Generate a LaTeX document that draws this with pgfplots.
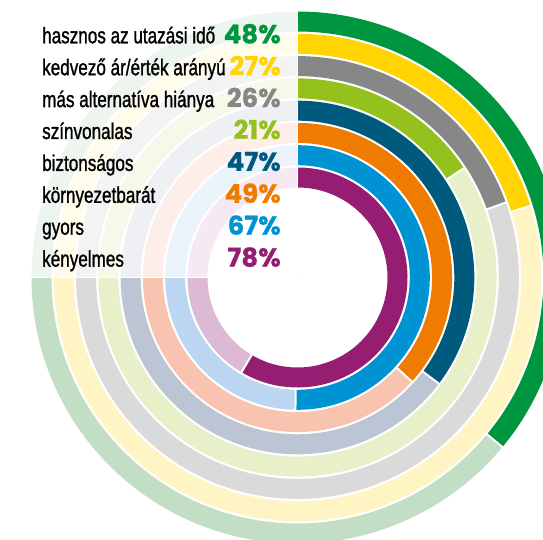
\documentclass[border=0pt]{standalone}
\usepackage{pgfplots}
\pgfplotsset{compat=1.18}
\usepackage{pgfplotstable}
\usepackage{fontspec}
\newfontfamily\labfont[FakeBold=1.4]{Liberation Sans}
\newfontfamily\pctfont[FakeBold=0.8]{Poppins}

% ring colours: full, light track, pale quadrant
\definecolor{c1}{HTML}{009640}\definecolor{c1L}{HTML}{C2DFC6}\definecolor{c1P}{HTML}{ECF5EE}
\definecolor{c2}{HTML}{FFD400}\definecolor{c2L}{HTML}{FFF4C4}\definecolor{c2P}{HTML}{FFFCEC}
\definecolor{c3}{HTML}{878787}\definecolor{c3L}{HTML}{DADADA}\definecolor{c3P}{HTML}{F3F3F3}
\definecolor{c4}{HTML}{95C11F}\definecolor{c4L}{HTML}{E8F0CA}\definecolor{c4P}{HTML}{F6F9EA}
\definecolor{c5}{HTML}{005A7E}\definecolor{c5L}{HTML}{BCC5D3}\definecolor{c5P}{HTML}{EEF0F4}
\definecolor{c6}{HTML}{EF7C00}\definecolor{c6L}{HTML}{F9C4AF}\definecolor{c6P}{HTML}{FEEEE9}
\definecolor{c7}{HTML}{0093D3}\definecolor{c7L}{HTML}{BBD6F0}\definecolor{c7P}{HTML}{EBF3FB}
\definecolor{c8}{HTML}{951E72}\definecolor{c8L}{HTML}{DCBAD3}\definecolor{c8P}{HTML}{F5EAF3}

% centre x y, ring radius r, value v (percent), colour index k
\pgfplotstableread{
x     y     r     v  k
297.5 262.5 256.0 48 1
297.5 262.5 233.7 27 2
297.5 262.5 211.4 26 3
297.5 262.5 189.1 21 4
297.5 262.5 166.8 47 5
297.5 262.5 144.6 49 6
297.5 262.5 122.3 67 7
297.5 262.5 100.0 78 8
}\rings

\newcommand\lab[1]{\scalebox{0.76}[1]{#1}}
\tikzset{
  lbl/.style={anchor=base west, inner sep=0pt, font=\labfont\fontsize{22.5}{22.5}\selectfont},
  pct/.style={anchor=base east, inner sep=0pt, font=\pctfont\bfseries\fontsize{26}{26}\selectfont},
}

\begin{document}
\begin{tikzpicture}
\begin{axis}[
  width=543pt, height=540pt, scale only axis,
  xmin=0, xmax=543, ymin=0, ymax=540,
  hide axis, clip marker paths=true,
]
\coordinate (sw) at (rel axis cs:0,0);
\coordinate (ne) at (rel axis cs:1,1);

\addplot[
  only marks, scatter, mark=*, mark size=0pt,
  visualization depends on={\thisrow{r}\as\rr},
  visualization depends on={\thisrow{v}\as\vv},
  visualization depends on={\thisrow{k}\as\kk},
  scatter/@pre marker code/.code={%
    \pgfmathsetmacro\ea{90-2.7*\vv}%
    \pgfmathsetmacro\ri{\rr-11}%
    \pgfmathsetmacro\ro{\rr+11}%
    \pgfmathtruncatemacro\ci{\kk}%
    \draw[line width=20pt, draw=c\ci P] (90:\rr pt) arc[start angle=90, end angle=180, radius=\rr pt];
    \draw[line width=20pt, draw=c\ci L] (-180:\rr pt) arc[start angle=-180, end angle=\ea, radius=\rr pt];
    \draw[line width=20pt, draw=c\ci] (\ea:\rr pt) arc[start angle=\ea, end angle=90, radius=\rr pt];
    \draw[white, line width=2pt] (\ea:\ri pt) -- (\ea:\ro pt);
    \draw[white, line width=1.5pt] (90:\ri pt) -- (90:\ro pt);
    \draw[white, line width=1.5pt] (180:\ri pt) -- (180:\ro pt);
  },
  scatter/@post marker code/.code={},
] table[x=x, y=y, meta=v] {\rings};

\node[lbl] at (axis cs:42,496.7) {\lab{hasznos az utazási idő}};
\node[lbl] at (axis cs:42,464.8) {\lab{kedvező ár/érték arányú}};
\node[lbl] at (axis cs:42,432.9) {\lab{más alternatíva hiánya}};
\node[lbl] at (axis cs:42,401.0) {\lab{színvonalas}};
\node[lbl] at (axis cs:42,369.1) {\lab{biztonságos}};
\node[lbl] at (axis cs:42,337.2) {\lab{környezetbarát}};
\node[lbl] at (axis cs:42,305.3) {\lab{gyors}};
\node[lbl] at (axis cs:42,273.4) {\lab{kényelmes}};

\node[pct, text=c1] at (axis cs:281,496.7) {48\%};
\node[pct, text=c2] at (axis cs:281,464.8) {27\%};
\node[pct, text=c3] at (axis cs:281,432.9) {26\%};
\node[pct, text=c4] at (axis cs:281,401.0) {21\%};
\node[pct, text=c5] at (axis cs:281,369.1) {47\%};
\node[pct, text=c6] at (axis cs:281,337.2) {49\%};
\node[pct, text=c7] at (axis cs:281,305.3) {67\%};
\node[pct, text=c8] at (axis cs:281,273.4) {78\%};
\end{axis}
\pgfresetboundingbox
\useasboundingbox (sw) rectangle (ne);
\end{tikzpicture}
\end{document}
